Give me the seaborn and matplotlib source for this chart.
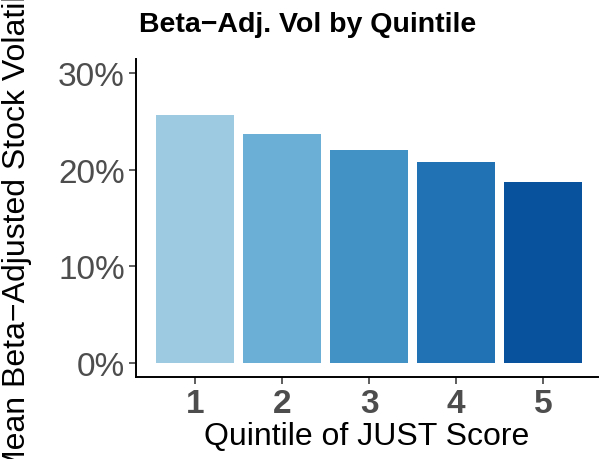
import pandas as pd
import seaborn as sns
import matplotlib.pyplot as plt
from matplotlib.ticker import PercentFormatter

# Data
quintiles = ["1", "2", "3", "4", "5"]
mean_beta_adj_vol = [0.257, 0.237, 0.221, 0.208, 0.187]
bar_colors = ["#9ECAE1", "#6BAED6", "#4292C6", "#2171B5", "#08519C"]

df = pd.DataFrame({"Quintile": quintiles, "Vol": mean_beta_adj_vol})

sns.set_style("white")
plt.rcParams["font.family"] = ["Liberation Sans", "DejaVu Sans"]

fig = plt.figure(figsize=(6, 4.6), dpi=100)
ax = fig.add_axes([0.2267, 0.178, 0.77, 0.6916])

sns.barplot(data=df, x="Quintile", y="Vol", hue="Quintile", palette=bar_colors,
            legend=False, width=0.9, saturation=1, linewidth=0, ax=ax)

ax.set_xlim(-0.68, 4.63)
ax.set_ylim(-0.015, 0.315)
ax.set_yticks([0, 0.1, 0.2, 0.3])
ax.yaxis.set_major_formatter(PercentFormatter(1.0, decimals=0))

for side in ["top", "right"]:
    ax.spines[side].set_visible(False)
for side in ["left", "bottom"]:
    ax.spines[side].set_color("black")
    ax.spines[side].set_linewidth(1.4)

ax.tick_params(axis="both", direction="out", length=5, width=1.1, color="#333333",
               labelsize=24, labelcolor="#4D4D4D", left=True, bottom=True, pad=3)
for lbl in ax.get_xticklabels():
    lbl.set_fontweight("bold")

ax.set_xlabel("Quintile of JUST Score", fontsize=23, color="black", labelpad=1)
ax.set_ylabel("Mean Beta\u2212Adjusted Stock Volatility", fontsize=23, color="black")
ax.yaxis.set_label_coords(-0.225, 0.5)

fig.text(0.512, 0.946, "Beta\u2212Adj. Vol by Quintile", ha="center", va="center",
         fontsize=20.5, fontweight="bold", color="black")

fig.savefig("out.png", dpi=100)
